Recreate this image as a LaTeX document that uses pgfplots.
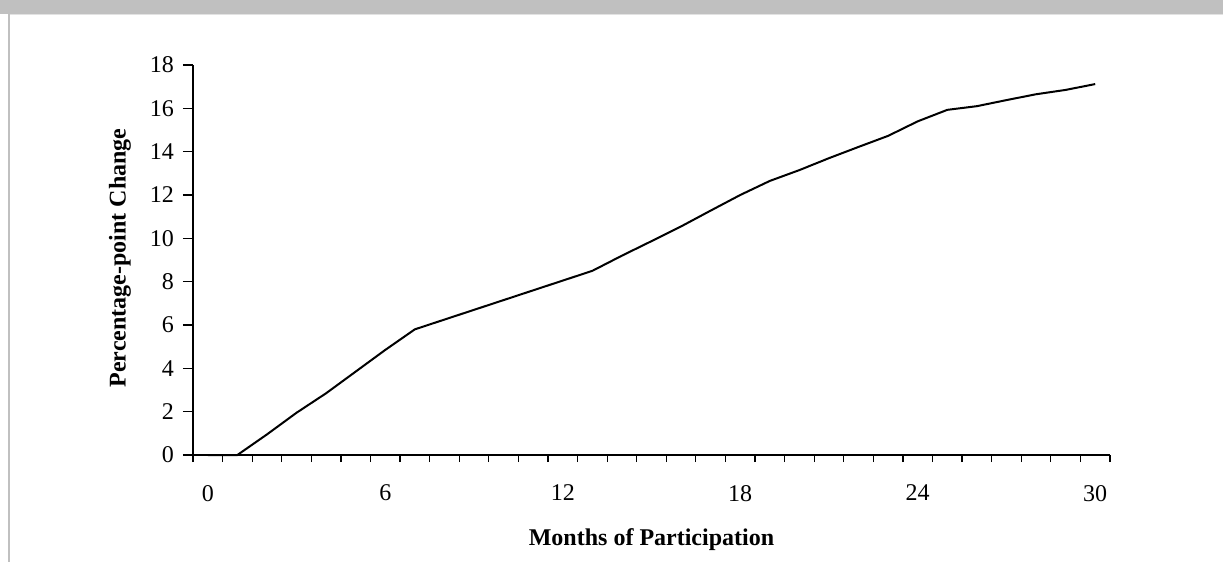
\documentclass[border=0pt]{standalone}
\usepackage{pgfplots}
\pgfplotsset{compat=1.18}
\usepackage{fontspec}
\setmainfont{Liberation Serif}
\definecolor{band}{HTML}{C0C0C0}
\definecolor{bandline}{HTML}{E2E2E2}
\begin{document}
\begin{tikzpicture}
% page is 1223x562 px at 0.5pt per px, origin top left
\useasboundingbox (0,0) rectangle (611.5pt,-281pt);
\fill[white] (0,0) rectangle (611.5pt,-281pt);
\fill[band] (0,0) rectangle (611.5pt,-7pt);
\draw[bandline, line width=0.6pt] (4pt,-7.3pt) -- (611.5pt,-7.3pt);
\draw[band, line width=1.3pt] (4.4pt,-7pt) -- (4.4pt,-281pt);
\begin{axis}[
  at={(96.5pt,-227.5pt)}, anchor=south west,
  scale only axis, width=458.5pt, height=195pt,
  xmin=-0.5, xmax=30.5, ymin=0, ymax=18,
  axis x line=bottom, axis y line=left,
  axis line style={-, line width=0.6pt},
  tick align=outside,
  ytick={0,2,...,18},
  xtick={0,6,...,30},
  minor xtick={-0.5,0.5,...,30.5},
  major tick length=5pt, minor tick length=3.5pt,
  major x tick style={draw=none},
  tick style={black, line width=0.6pt},
  ticklabel style={font=\fontsize{12}{14}\selectfont},
  /pgf/number format/assume math mode=true,
  xticklabel shift=6.5pt, yticklabel shift=1pt,
  clip=false,
]
\addplot[black, line width=1pt] coordinates {
  (0,0) (1,0) (2,0.95) (3,1.95) (4,2.85) (5,3.85) (6,4.85) (7,5.8)
  (8,6.25) (9,6.7) (10,7.15) (11,7.6) (12,8.05) (13,8.5) (14,9.2)
  (15,9.87) (16,10.55) (17,11.28) (18,12.0) (19,12.65) (20,13.15)
  (21,13.7) (22,14.22) (23,14.73) (24,15.4) (25,15.93) (26,16.1)
  (27,16.38) (28,16.65) (29,16.85) (30,17.12)
};
\end{axis}
\node[rotate=90, font=\bfseries\fontsize{12}{14}\selectfont] at (60pt,-129pt) {Percentage-point Change};
\node[font=\bfseries\fontsize{12}{14}\selectfont] at (325.75pt,-270pt) {Months of Participation};
\end{tikzpicture}
\end{document}
